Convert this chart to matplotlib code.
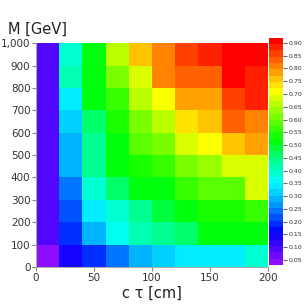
import numpy as np
import matplotlib
matplotlib.use("Agg")
import matplotlib.pyplot as plt
from matplotlib.colors import LinearSegmentedColormap, Normalize
from matplotlib.ticker import FuncFormatter

# bin edges
ctau_edges = [0, 20, 40, 60, 80, 100, 120, 140, 160, 180, 200]
mass_edges = [0, 100, 200, 300, 400, 500, 600, 700, 800, 900, 1000]

# efficiency per cell, rows = mass bins (low -> high), cols = c tau bins
eff_0 = [0.05, 0.14, 0.20, 0.25, 0.29, 0.31, 0.33, 0.34, 0.35, 0.38]
eff_100 = [0.09, 0.18, 0.30, 0.37, 0.41, 0.43, 0.47, 0.50, 0.52, 0.52]
eff_200 = [0.09, 0.21, 0.33, 0.40, 0.44, 0.48, 0.51, 0.53, 0.54, 0.55]
eff_300 = [0.09, 0.24, 0.40, 0.47, 0.50, 0.52, 0.56, 0.58, 0.59, 0.68]
eff_400 = [0.09, 0.28, 0.44, 0.50, 0.53, 0.55, 0.61, 0.64, 0.68, 0.69]
eff_500 = [0.09, 0.30, 0.45, 0.51, 0.58, 0.62, 0.68, 0.72, 0.75, 0.79]
eff_600 = [0.09, 0.32, 0.47, 0.53, 0.60, 0.66, 0.74, 0.76, 0.83, 0.80]
eff_700 = [0.09, 0.34, 0.50, 0.55, 0.67, 0.72, 0.79, 0.79, 0.86, 0.88]
eff_800 = [0.09, 0.41, 0.50, 0.60, 0.69, 0.80, 0.83, 0.84, 0.90, 0.89]
eff_900 = [0.09, 0.40, 0.52, 0.66, 0.75, 0.82, 0.87, 0.88, 0.91, 0.92]

cbar_ticks = [0.05, 0.10, 0.15, 0.20, 0.25, 0.30, 0.35, 0.40, 0.45,
              0.50, 0.55, 0.60, 0.65, 0.70, 0.75, 0.80, 0.85, 0.90]

z = np.array([eff_0, eff_100, eff_200, eff_300, eff_400,
              eff_500, eff_600, eff_700, eff_800, eff_900])

vmin, vmax = 0.03, 0.92
stops = [
    (0.03, (0.55, 0.05, 1.00)),
    (0.15, (0.00, 0.00, 1.00)),
    (0.25, (0.00, 0.55, 1.00)),
    (0.35, (0.00, 1.00, 1.00)),
    (0.45, (0.00, 1.00, 0.50)),
    (0.52, (0.00, 1.00, 0.00)),
    (0.62, (0.50, 1.00, 0.00)),
    (0.72, (1.00, 1.00, 0.00)),
    (0.80, (1.00, 0.60, 0.00)),
    (0.92, (1.00, 0.00, 0.00)),
]
cmap = LinearSegmentedColormap.from_list(
    "rb", [((v - vmin) / (vmax - vmin), c) for v, c in stops], N=36)
norm = Normalize(vmin=vmin, vmax=vmax)

fig = plt.figure(figsize=(3.08, 3.08), dpi=100)
ax = fig.add_axes([0.117, 0.133, 0.753, 0.727])
cax = fig.add_axes([0.873, 0.140, 0.045, 0.737])

mesh = ax.pcolormesh(ctau_edges, mass_edges, z, cmap=cmap, norm=norm)
ax.set_xlim(0, 200)
ax.set_ylim(0, 1000)
ax.set_xticks([0, 50, 100, 150, 200])
ax.set_yticks(range(0, 1001, 100))
ax.yaxis.set_major_formatter(FuncFormatter(lambda v, p: f"{int(v):,}"))
ax.tick_params(labelsize=7.5, length=3, color="#888888", pad=1, labelcolor="#333333")
for s in ["top", "right"]:
    ax.spines[s].set_visible(False)
for s in ["left", "bottom"]:
    ax.spines[s].set_color("#aaaaaa")
ax.set_xlabel("c τ [cm]", fontsize=10.5, labelpad=2, color="#222222")
fig.text(0.026, 0.905, "M [GeV]", fontsize=10.5, color="#222222", va="center")

cb = fig.colorbar(mesh, cax=cax, ticks=cbar_ticks)
cb.outline.set_visible(False)
cb.ax.tick_params(labelsize=4.5, length=3, color="#666666", pad=1, labelcolor="#333333")
cb.ax.set_yticklabels([f"{t:.2f}" for t in cbar_ticks])

fig.savefig("out.png", dpi=100)
